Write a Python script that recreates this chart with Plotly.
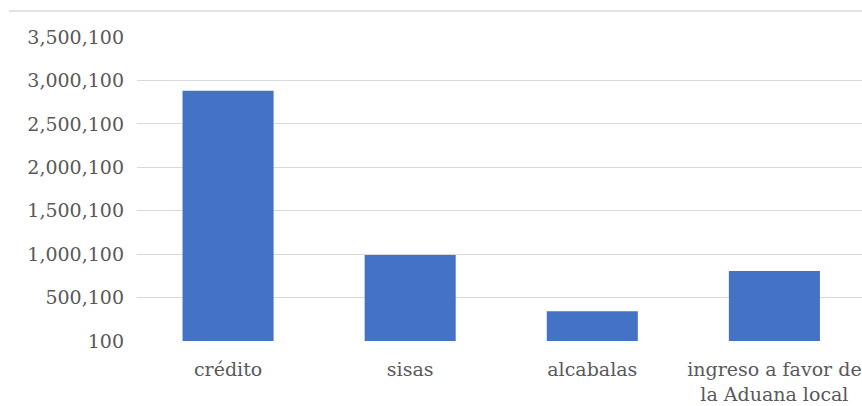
import plotly.graph_objects as go

categories = ["crédito", "sisas", "alcabalas", "ingreso a favor de<br>la Aduana local"]
values = [2880000, 990000, 342000, 806000]
tick_values = [100, 500100, 1000100, 1500100, 2000100, 2500100, 3000100, 3500100]
tick_labels = ["100", "500,100", "1,000,100", "1,500,100", "2,000,100", "2,500,100", "3,000,100", "3,500,100"]

fig = go.Figure()
fig.add_trace(go.Bar(
    x=list(range(len(categories))),
    y=values,
    base=100,
    marker=dict(color="#4472C4", line=dict(width=0)),
))

font = dict(family="DejaVu Serif", size=19, color="#595959")

fig.update_layout(
    width=862, height=406,
    margin=dict(l=137, r=0, t=37, b=65),
    paper_bgcolor="white", plot_bgcolor="white",
    bargap=0.5,
    showlegend=False,
    font=font,
    xaxis=dict(
        range=[-0.5, 3.481],
        tickvals=list(range(len(categories))),
        ticktext=categories,
        showgrid=False, zeroline=False, showline=False,
        ticks="", tickfont=font, ticklabelstandoff=15,
    ),
    yaxis=dict(
        range=[100, 3500100],
        tickvals=tick_values,
        ticktext=tick_labels,
        showgrid=True, gridcolor="#d9d9d9", gridwidth=1.3,
        zeroline=False, showline=False, ticks="",
        tickfont=font, ticklabelstandoff=12,
    ),
    shapes=[dict(type="line", xref="paper", yref="paper",
                 x0=-128/725, x1=1.01, y0=1 + 26/304, y1=1 + 26/304,
                 line=dict(color="#d9d9d9", width=1.3))],
)

fig.write_html("out.html", config={"displayModeBar": False},
               post_script="document.body.style.margin='0';document.body.style.padding='0';")
